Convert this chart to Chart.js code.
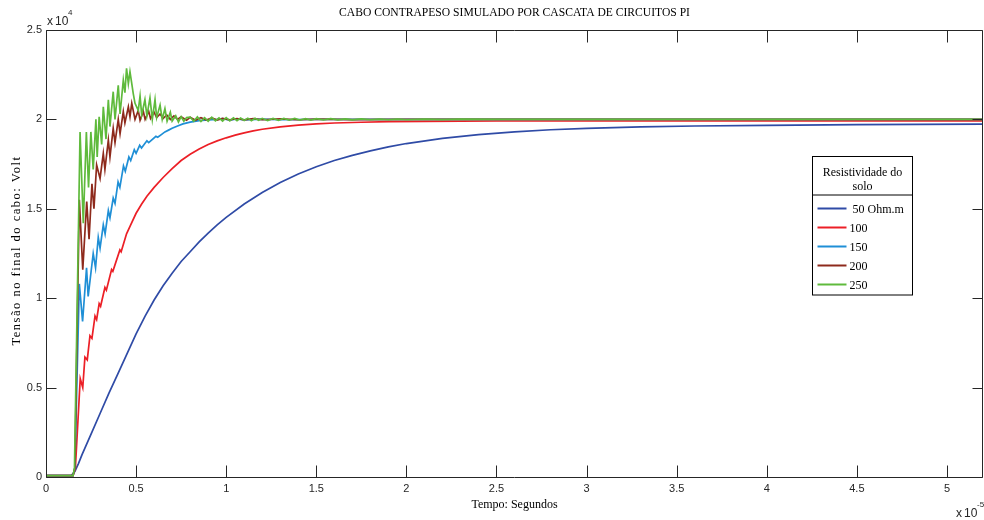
<!DOCTYPE html>
<html>
<head>
<meta charset="utf-8">
<script src="https://cdn.jsdelivr.net/npm/chart.js@4.4.1/dist/chart.umd.min.js"></script>
<style>
  html, body { margin: 0; padding: 0; background: #ffffff; }
  #wrap { width: 984px; height: 520px; position: relative; }
</style>
</head>
<body>
<div id="wrap"><canvas id="c" width="984" height="520"></canvas></div>
<script>
// Time in units of 1e-5 s, voltage in units of 1e4 V.
const chartTitle = 'CABO CONTRAPESO SIMULADO POR CASCATA DE CIRCUITOS PI';
const xAxisTitle = 'Tempo: Segundos';
const yAxisTitle = 'Tensão no final do cabo: Volt';
const legendTitle = ['Resistividade do', 'solo'];
const seriesLabels = [' 50 Ohm.m', '100', '150', '200', '250'];
const seriesColors = ['#2f4ba6', '#ec1f26', '#1f8fd6', '#8e2a1c', '#5fba3c'];
const xTickLabels = ['0', '0.5', '1', '1.5', '2', '2.5', '3', '3.5', '4', '4.5', '5'];
const yTickLabels = ['0', '0.5', '1', '1.5', '2', '2.5'];

// [time, voltage] samples for each soil resistivity
const resp50 = [
  [0, 0.008], [0.14, 0.008], [0.16, 0.03], [0.18, 0.075], [0.20, 0.125], [0.25, 0.24],
  [0.30, 0.355], [0.35, 0.47], [0.40, 0.58], [0.45, 0.69], [0.50, 0.80], [0.55, 0.90],
  [0.60, 0.99], [0.65, 1.07], [0.70, 1.14], [0.75, 1.205], [0.80, 1.26], [0.85, 1.315],
  [0.90, 1.364], [0.95, 1.41], [1.00, 1.452], [1.10, 1.527], [1.20, 1.591], [1.30, 1.647],
  [1.40, 1.695], [1.50, 1.735], [1.60, 1.77], [1.70, 1.799], [1.80, 1.824], [1.90, 1.846],
  [2.00, 1.865], [2.20, 1.894], [2.40, 1.915], [2.60, 1.93], [2.80, 1.942], [3.00, 1.95],
  [3.30, 1.958], [3.60, 1.963], [4.00, 1.967], [4.50, 1.971], [5.20, 1.974]
];
const resp100 = [
  [0, 0.008], [0.15, 0.008], [0.163, 0.05], [0.19, 0.55], [0.204, 0.50], [0.216, 0.67],
  [0.229, 0.655], [0.244, 0.79], [0.255, 0.775], [0.272, 0.90], [0.281, 0.88], [0.295, 0.97],
  [0.303, 0.955], [0.327, 1.06], [0.335, 1.045], [0.364, 1.16], [0.371, 1.15], [0.41, 1.27],
  [0.417, 1.26], [0.447, 1.36], [0.47, 1.41], [0.50, 1.475], [0.53, 1.525], [0.56, 1.57],
  [0.60, 1.62], [0.65, 1.675], [0.70, 1.725], [0.75, 1.77], [0.80, 1.805], [0.85, 1.835],
  [0.90, 1.86], [0.95, 1.88], [1.00, 1.897], [1.05, 1.912], [1.10, 1.925], [1.15, 1.936],
  [1.20, 1.945], [1.30, 1.958], [1.40, 1.968], [1.50, 1.975], [1.60, 1.98], [1.75, 1.984],
  [1.90, 1.987], [2.10, 1.989], [2.50, 1.991], [5.20, 1.992]
];
const resp150 = [
  [0, 0.008], [0.15, 0.008], [0.16, 0.05], [0.185, 1.08], [0.203, 0.87], [0.225, 1.17],
  [0.234, 1.01], [0.262, 1.25], [0.275, 1.17], [0.29, 1.34], [0.30, 1.28], [0.318, 1.41],
  [0.328, 1.36], [0.346, 1.49], [0.355, 1.45], [0.373, 1.56], [0.383, 1.53], [0.40, 1.65],
  [0.41, 1.62], [0.43, 1.74], [0.44, 1.71], [0.46, 1.79], [0.47, 1.77], [0.49, 1.83],
  [0.50, 1.81], [0.52, 1.855], [0.53, 1.84], [0.56, 1.88], [0.57, 1.87], [0.61, 1.905],
  [0.62, 1.90], [0.64, 1.915], [0.66, 1.93], [0.68, 1.94], [0.70, 1.95], [0.73, 1.963],
  [0.76, 1.975], [0.80, 1.985], [0.85, 1.993], [0.90, 1.997], [0.95, 2.0], [0.98, 2.004],
  [1.02, 1.996], [1.06, 2.003], [1.10, 1.997], [1.20, 2.002], [1.30, 1.998], [1.50, 2.0],
  [5.2, 2.0]
];
const resp200 = [
  [0, 0.008], [0.15, 0.008], [0.16, 0.05], [0.185, 1.55], [0.204, 1.16], [0.226, 1.54],
  [0.239, 1.33], [0.255, 1.64], [0.266, 1.50], [0.281, 1.745], [0.300, 1.67], [0.318, 1.81],
  [0.327, 1.72], [0.346, 1.885], [0.355, 1.79], [0.373, 1.95], [0.383, 1.87], [0.401, 2.0],
  [0.411, 1.92], [0.429, 2.043], [0.438, 1.98], [0.457, 2.07], [0.466, 2.015], [0.476, 2.09],
  [0.494, 2.0], [0.512, 2.05], [0.522, 1.995], [0.54, 2.045], [0.55, 2.0], [0.57, 2.045],
  [0.58, 2.005], [0.60, 2.04], [0.614, 2.01], [0.633, 2.03], [0.65, 2.005], [0.67, 2.025],
  [0.69, 2.0], [0.71, 2.02], [0.73, 2.0], [0.75, 2.015], [0.78, 1.995], [0.80, 2.012],
  [0.83, 1.995], [0.86, 2.01], [0.89, 1.996], [0.92, 2.008], [0.95, 1.996], [0.98, 2.006],
  [1.02, 1.997], [1.06, 2.005], [1.10, 1.997], [1.15, 2.004], [1.20, 1.998], [1.30, 2.003],
  [1.40, 1.998], [1.50, 2.002], [1.70, 1.999], [2.0, 2.0], [5.2, 2.0]
];
const resp250 = [
  [0, 0.008], [0.15, 0.008], [0.158, 0.05], [0.189, 1.93], [0.207, 1.42], [0.224, 1.93],
  [0.236, 1.62], [0.249, 1.93], [0.262, 1.72], [0.277, 2.0], [0.284, 1.79], [0.295, 2.015],
  [0.309, 1.86], [0.318, 2.07], [0.333, 1.89], [0.346, 2.11], [0.355, 1.96], [0.373, 2.155],
  [0.383, 2.0], [0.401, 2.19], [0.411, 2.03], [0.429, 2.22], [0.438, 2.15], [0.447, 2.286],
  [0.457, 2.2], [0.466, 2.267], [0.476, 2.2], [0.484, 2.146], [0.494, 2.09], [0.512, 2.05],
  [0.522, 2.13], [0.531, 2.025], [0.549, 2.11], [0.56, 2.02], [0.577, 2.12], [0.59, 2.0],
  [0.605, 2.11], [0.614, 2.01], [0.633, 2.08], [0.645, 2.0], [0.66, 2.06], [0.672, 1.99],
  [0.69, 2.04], [0.70, 1.99], [0.72, 2.02], [0.735, 1.985], [0.75, 2.015], [0.765, 1.99],
  [0.78, 2.01], [0.80, 2.012], [0.82, 1.99], [0.84, 2.014], [0.86, 1.988], [0.88, 2.01],
  [0.90, 1.99], [0.92, 2.012], [0.94, 1.992], [0.96, 2.008], [0.98, 1.99], [1.00, 2.01],
  [1.02, 1.992], [1.04, 2.009], [1.06, 1.993], [1.08, 2.008], [1.10, 1.994], [1.12, 2.007],
  [1.14, 1.993], [1.16, 2.006], [1.18, 1.995], [1.20, 2.006], [1.23, 1.994], [1.26, 2.005],
  [1.29, 1.995], [1.32, 2.006], [1.35, 1.996], [1.38, 2.005], [1.41, 1.996], [1.44, 2.004],
  [1.47, 1.996], [1.50, 2.004], [1.54, 1.997], [1.58, 2.004], [1.62, 1.997], [1.66, 2.003],
  [1.70, 1.997], [1.75, 2.003], [1.80, 1.998], [1.85, 2.002], [1.90, 1.998], [1.95, 2.002],
  [2.0, 1.998], [2.1, 2.002], [2.2, 1.999], [2.3, 2.001], [2.5, 2.0], [5.2, 2.0]
];
const allSeries = [resp50, resp100, resp150, resp200, resp250];

const serif = '"Liberation Serif", "Times New Roman", serif';
const sans = '"Liberation Sans", Arial, sans-serif';
const axisColor = '#262626';

const datasets = allSeries.map((s, i) => ({
  label: seriesLabels[i],
  data: s.map(p => ({ x: p[0], y: p[1] })),
  borderColor: seriesColors[i],
  backgroundColor: seriesColors[i],
  borderWidth: 1.7,
  pointRadius: 0,
  showLine: true,
  tension: 0,
  // later curves are drawn on top
  order: allSeries.length - i
}));

// Boxed axes with inward ticks, title, exponent marks and the legend box
const decorations = {
  id: 'decorations',
  afterDraw(chart) {
    const { ctx, chartArea: a, scales } = chart;
    const xs = scales.x, ys = scales.y;
    const L = a.left + 0.5, R = a.right - 0.5, T = a.top + 0.5, B = a.bottom + 0.5;
    ctx.save();
    ctx.strokeStyle = axisColor;
    ctx.lineWidth = 1;
    ctx.beginPath();
    ctx.rect(L, T, R - L, B - T);
    ctx.stroke();
    ctx.beginPath();
    xs.ticks.forEach(t => {
      const px = Math.round(xs.getPixelForValue(t.value)) + 0.5;
      ctx.moveTo(px, B); ctx.lineTo(px, B - 12);
      ctx.moveTo(px, T); ctx.lineTo(px, T + 12);
    });
    ys.ticks.forEach(t => {
      const py = Math.round(ys.getPixelForValue(t.value)) + 0.5;
      ctx.moveTo(L, py); ctx.lineTo(L + 10, py);
      ctx.moveTo(R, py); ctx.lineTo(R - 10, py);
    });
    ctx.stroke();

    // chart title
    ctx.fillStyle = '#000';
    ctx.textAlign = 'center';
    ctx.textBaseline = 'middle';
    ctx.font = '11.6px ' + serif;
    ctx.fillText(chartTitle, (a.left + a.right) / 2, 13);

    // y axis title, rotated
    ctx.save();
    ctx.translate(17, (a.top + a.bottom) / 2 - 3);
    ctx.rotate(-Math.PI / 2);
    ctx.font = '12.5px ' + serif;
    try { ctx.letterSpacing = '1.5px'; } catch (e) {}
    ctx.fillText(yAxisTitle, 0, 0);
    ctx.restore();

    // exponent marks
    ctx.fillStyle = axisColor;
    ctx.textAlign = 'left';
    ctx.textBaseline = 'alphabetic';
    ctx.font = '12px ' + sans;
    ctx.fillText('x', a.left + 1, 25);
    ctx.fillText('10', a.left + 9, 25);
    ctx.font = '8px ' + sans;
    ctx.fillText('4', a.left + 22, 15);
    ctx.font = '12px ' + sans;
    ctx.fillText('x', 956, 517);
    ctx.fillText('10', 964, 517);
    ctx.font = '8px ' + sans;
    ctx.fillText('-5', 977, 507);

    // legend box
    const bx = 812.5, by = 156.5, bw = 100, bh = 138.5, hdr = 38.5;
    ctx.fillStyle = '#fff';
    ctx.fillRect(bx, by, bw, bh);
    ctx.strokeStyle = '#000';
    ctx.lineWidth = 1;
    ctx.strokeRect(bx, by, bw, bh);
    ctx.beginPath();
    ctx.moveTo(bx, by + hdr); ctx.lineTo(bx + bw, by + hdr);
    ctx.stroke();
    ctx.fillStyle = '#000';
    ctx.textAlign = 'center';
    ctx.textBaseline = 'middle';
    ctx.font = '12px ' + serif;
    ctx.fillText(legendTitle[0], bx + bw / 2, by + 16);
    ctx.fillText(legendTitle[1], bx + bw / 2, by + 30.5);
    ctx.textAlign = 'left';
    chart.data.datasets.forEach((d, i) => {
      const ly = by + 52 + i * 19;
      ctx.strokeStyle = d.borderColor;
      ctx.lineWidth = 2;
      ctx.beginPath();
      ctx.moveTo(bx + 5, ly); ctx.lineTo(bx + 34, ly);
      ctx.stroke();
      ctx.fillStyle = '#000';
      ctx.fillText(d.label, bx + 37, ly + 1);
    });
    ctx.restore();
  }
};

new Chart(document.getElementById('c'), {
  type: 'scatter',
  data: { datasets },
  options: {
    responsive: false,
    animation: false,
    devicePixelRatio: 1,
    layout: { padding: { top: 30, right: 1, left: 0, bottom: 0 } },
    plugins: { legend: { display: false }, title: { display: false }, tooltip: { enabled: false } },
    scales: {
      x: {
        type: 'linear', min: 0, max: 5.2,
        grid: { display: false, drawTicks: false },
        border: { display: false },
        ticks: {
          stepSize: 0.5, includeBounds: false, padding: 5, maxRotation: 0, autoSkip: false,
          color: axisColor, font: { family: sans, size: 11 },
          callback: (v, i) => xTickLabels[i]
        },
        title: {
          display: true, text: xAxisTitle, color: '#000',
          font: { family: serif, size: 12 }, padding: { top: 0, bottom: 8 }
        },
        afterFit: s => { s.height = 43; }
      },
      y: {
        type: 'linear', min: 0, max: 2.5,
        grid: { display: false, drawTicks: false },
        border: { display: false },
        ticks: {
          stepSize: 0.5, includeBounds: false, padding: 4, autoSkip: false,
          color: axisColor, font: { family: sans, size: 11 },
          callback: (v, i) => yTickLabels[i]
        },
        afterFit: s => { s.width = 46; }
      }
    }
  },
  plugins: [decorations]
});
</script>
</body>
</html>
